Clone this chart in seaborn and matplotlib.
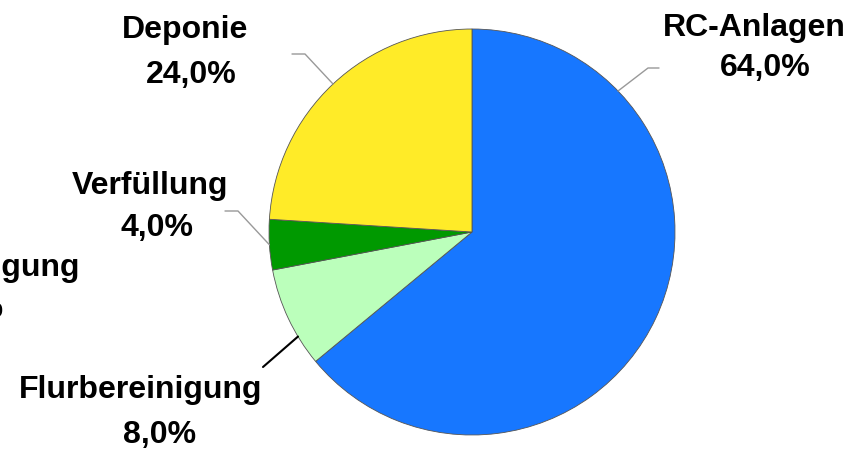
import numpy as np
import matplotlib
matplotlib.use('Agg')
import matplotlib.pyplot as plt
import seaborn as sns

sns.set_style('white')
plt.rcParams['font.family'] = ['Liberation Sans', 'DejaVu Sans']
plt.rcParams['text.color'] = 'black'

# Daten (im Uhrzeigersinn ab 12 Uhr)
kategorien = ['RC-Anlagen', 'Flurbereinigung', 'Verfüllung', 'Deponie']
anteile = [64.0, 8.0, 4.0, 24.0]
farben = ['#1777FF', '#BBFFBB', '#009900', '#FFEB28']

# Layout in Pixeln (y von oben)
W, H = 855, 449
cx, cy, r = 472, 232, 203
# Textposition: (Name x, Name y, Wert x, Wert y)
text_pos = {
    'RC-Anlagen': (754, 28, 765, 68),
    'Flurbereinigung': (141, 390, 160, 435),
    'Verfüllung': (150, 186, 157, 228),
    'Deponie': (185, 30, 191, 75),
}
knick = {
    'RC-Anlagen': (659, 648, 68),
    'Flurbereinigung': None,
    'Verfüllung': (225, 238, 211),
    'Deponie': (292, 305, 54),
}
linien_winkel = {'RC-Anlagen': 44.0, 'Flurbereinigung': 211.0}
linien_farbe = {'RC-Anlagen': '#999999', 'Flurbereinigung': 'black',
                'Verfüllung': '#999999', 'Deponie': '#999999'}

fig = plt.figure(figsize=(W / 100, H / 100), dpi=100)
ax = fig.add_axes([0, 0, 1, 1])

wedges, _ = ax.pie(anteile, colors=farben, startangle=90, counterclock=False,
                   center=(cx, H - cy), radius=r,
                   wedgeprops=dict(edgecolor='#555555', linewidth=0.6))
ax.set_xlim(0, W)
ax.set_ylim(0, H)
ax.set_aspect('equal')
ax.axis('off')

fs = 23


def label(nx, ny, vx, vy, name, wert):
    ax.text(nx, H - ny, name, ha='center', va='center', fontsize=fs,
            fontweight='bold', color='black')
    ax.text(vx, H - vy, f'{wert:.1f}%'.replace('.', ','), ha='center',
            va='center', fontsize=fs, fontweight='bold', color='black')


for w, name, wert in zip(wedges, kategorien, anteile):
    mitte = (w.theta1 + w.theta2) / 2
    winkel = linien_winkel.get(name, mitte)
    px = cx + r * np.cos(np.radians(winkel))
    py = H - cy + r * np.sin(np.radians(winkel))
    k = knick[name]
    if k is not None:
        xs = [k[0], k[1], px]
        ys = [H - k[2], H - k[2], py]
    else:
        xs = [263, px]
        ys = [H - 367, py]
    ax.plot(xs, ys, color=linien_farbe[name], lw=1.0 if k else 1.5)
    label(*text_pos[name], name, wert)

# abgeschnittenes Doppel-Label am linken Rand (wie im Original)
label(-41, 268, -33, 309, 'Flurbereinigung', 8.0)

fig.savefig('out.png', dpi=100)
